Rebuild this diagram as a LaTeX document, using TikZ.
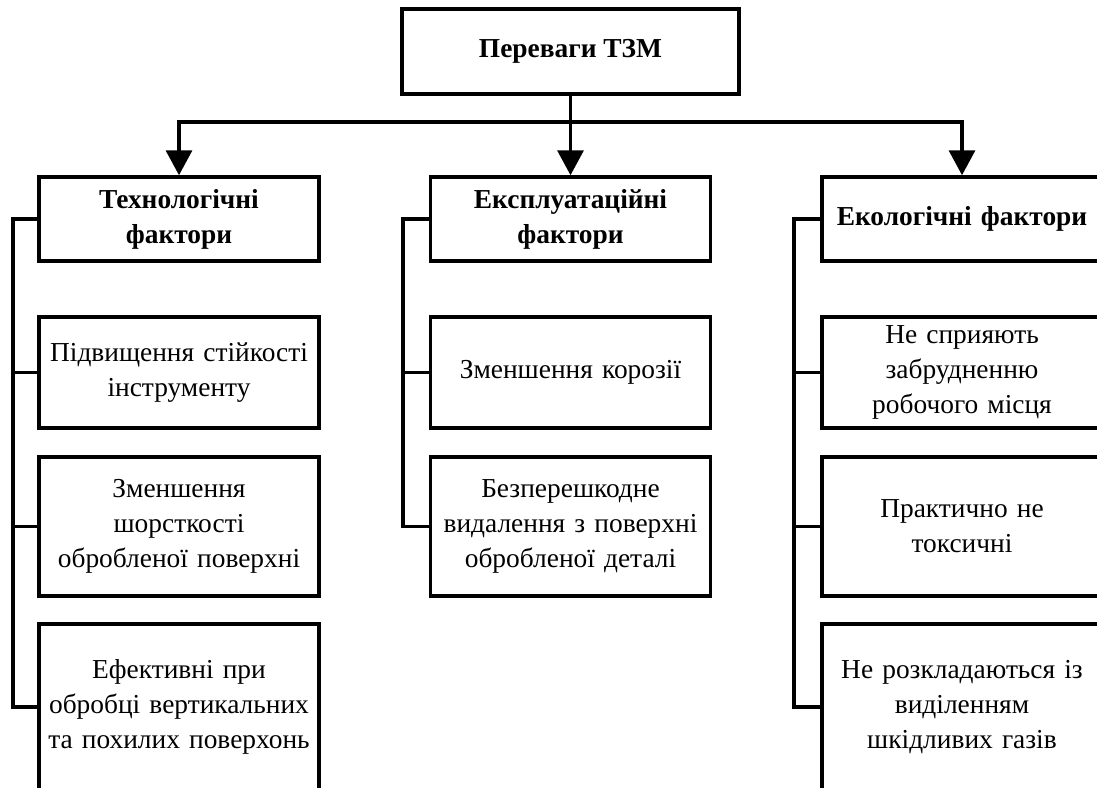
\documentclass[tikz,border=0pt]{standalone}
\usepackage{fontspec}
\setmainfont{Liberation Serif}
\usepackage{tikz}
\usetikzlibrary{positioning}
\usetikzlibrary{arrows.meta,calc}
\newcommand{\boxfont}{\fontsize{15.6}{20}\selectfont}
\tikzstyle{rootbox}=[draw,line width=2pt,minimum width=6.74cm,minimum height=1.7cm,inner sep=2pt,font=\boxfont\bfseries]
\tikzstyle{headbox}=[draw,line width=2pt,minimum width=5.6cm,minimum height=1.68cm,text width=5.4cm,align=center,inner sep=2pt,font=\boxfont\bfseries]
\tikzstyle{itembox}=[draw,line width=2pt,minimum width=5.6cm,text width=5.4cm,align=center,inner sep=2pt,font=\boxfont]
\tikzstyle{link} = [draw,line width=2pt,line cap=rect]
\tikzstyle{edge} = [draw,line width=2pt,-{Triangle[length=0.5cm,width=0.52cm]}]

\begin{document}
\begin{tikzpicture}[x=0.02cm,y=-0.02cm]

   \useasboundingbox (0,0) rectangle (1097,787);
   \clip (0,0) rectangle (1097,787);

   \node[rootbox] (root) at (570.5,51.5) {Переваги ТЗМ};

   % headers
   \node[headbox] (tech) at (179,219) {Технологічні\\фактори};
   \node[headbox] (expl) at (570.5,219) {Експлуатаційні\\фактори};
   \node[headbox] (eco) at (962,219) {Екологічні фактори};

   % items
   \foreach \name/\x/\y/\h/\txt in {
      t1/179/372.5/2.22/{Підвищення стійкості\\інструменту},
      t2/179/526.5/2.78/{Зменшення\\шорсткості\\обробленої поверхні},
      t3/179/707/3.32/{Ефективні при\\обробці вертикальних\\та похилих поверхонь},
      x1/570.5/372.5/2.22/{Зменшення корозії},
      x2/570.5/526.5/2.78/{Безперешкодне\\видалення з поверхні\\обробленої деталі},
      e1/962/372.5/2.22/{Не сприяють\\забрудненню\\робочого місця},
      e2/962/526.5/2.78/{Практично не\\токсичні},
      e3/962/707/3.32/{Не розкладаються із\\виділенням\\шкідливих газів}}
        \node[itembox,minimum height=\h cm] (\name) at (\x,\y) {\txt};

   % top bus
   \coordinate (bus) at (0,122);
   \path[link] (root.south) -- (root.south |- bus);
   \path[link] (tech.north |- bus) -- (eco.north |- bus);
   \foreach \n in {tech,expl,eco}
        \path[edge] (\n.north |- bus) -- (\n.north);

   % side buses
   \coordinate (tbus) at (13,0);
   \coordinate (xbus) at (403,0);
   \coordinate (ebus) at (794,0);
   \path[link] (tech.west -| tbus) -- (t3.west -| tbus);
   \path[link] (expl.west -| xbus) -- (x2.west -| xbus);
   \path[link] (eco.west -| ebus) -- (e3.west -| ebus);
   \foreach \n/\b in {tech/tbus,t1/tbus,t2/tbus,t3/tbus,expl/xbus,x1/xbus,x2/xbus,eco/ebus,e1/ebus,e2/ebus,e3/ebus}
        \path[link] (\n.west) -- (\n.west -| \b);

\end{tikzpicture}
\end{document}
